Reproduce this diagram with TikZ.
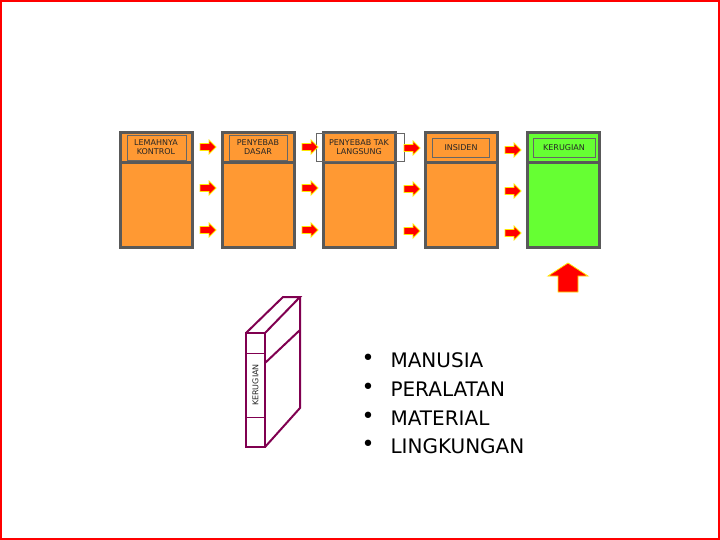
\documentclass[tikz,border=0pt]{standalone}
\usepackage{fontspec}
\setmainfont{DejaVu Sans}
\begin{document}
\begin{tikzpicture}[x=1pt,y=-1pt,
 lbl/.style={font=\fontsize{8}{9}\selectfont,align=center,text=black!85},
 sarrow/.style={fill=red,draw=yellow!90!orange,line width=0.8pt},
 bk/.style={draw=bkc,line width=2pt}]
\definecolor{org}{HTML}{FF9933}
\definecolor{grn}{HTML}{66FF33}
\definecolor{bkc}{HTML}{800050}
\useasboundingbox (0,0) rectangle (720,540);
\draw[red,line width=2pt] (1,1) rectangle (719,539);
% boxes
\foreach \x/\c [count=\i] in {120/org,222/org,323/org,425/org,527/grn}{
  \draw[draw=black!65,line width=3pt,fill=\c] (\x,133) rectangle ++(72,114);
  \draw[black!65,line width=3pt] (\x,163) -- ++(72,0);
  \coordinate (b\i) at (\x,133);
}
\draw[black!60,line width=0.6pt] (127,135) rectangle (186,160);
\draw[black!60,line width=0.6pt] (229,135) rectangle (287,160);
\draw[black!60,line width=0.6pt] (316,133) rectangle (404,161);
\draw[black!60,line width=0.6pt] (432,138) rectangle (489,157);
\draw[black!60,line width=0.6pt] (533,138) rectangle (595,157);
\node[lbl] (t1) at (156,147) {LEMAHNYA\\KONTROL};
\node[lbl] (t2) at (258,147) {PENYEBAB\\DASAR};
\node[lbl] (t3) at (359,147) {PENYEBAB TAK\\LANGSUNG};
\node[lbl] (t4) at (461,148) {INSIDEN};
\node[lbl] (t5) at (564,148) {KERUGIAN};
% small arrows
\foreach \x/\o in {200/0,302/0,404/1,505/3}{
 \foreach \y in {147,188,230}{
  \pgfmathsetmacro\yy{\y+\o}
  \draw[sarrow] (\x,\yy-3.5) -- (\x+9,\yy-3.5) -- (\x+9,\yy-7) -- (\x+16,\yy) -- (\x+9,\yy+7) -- (\x+9,\yy+3.5) -- (\x,\yy+3.5) -- cycle;
 }}
% big up arrow
\draw[sarrow] (558,292) -- (558,276) -- (548,276) -- (568,263) -- (588,276) -- (578,276) -- (578,292) -- cycle;
% book
\draw[bk,fill=white] (246,333) rectangle (265,447);
\draw[bk] (246,333) -- (283,297) -- (300,297) -- (265,333);
\draw[bk] (300,297) -- (300,408) -- (265,447);
\draw[bk] (265,363) -- (300,330);
\draw[bkc,line width=0.6pt] (246,353) -- (265,353) (246,417) -- (265,417);
\node[lbl,rotate=90] (bt) at (255.5,385) {KERUGIAN};
% list
\foreach \t/\y in {MANUSIA/360,PERALATAN/389,MATERIAL/418,LINGKUNGAN/446}{
 \node[font=\fontsize{22}{24}\selectfont] at (368,\y) {•};
 \node[anchor=west,font=\fontsize{20}{24}\selectfont] at (387,\y) {\t};
}
\end{tikzpicture}
\end{document}
